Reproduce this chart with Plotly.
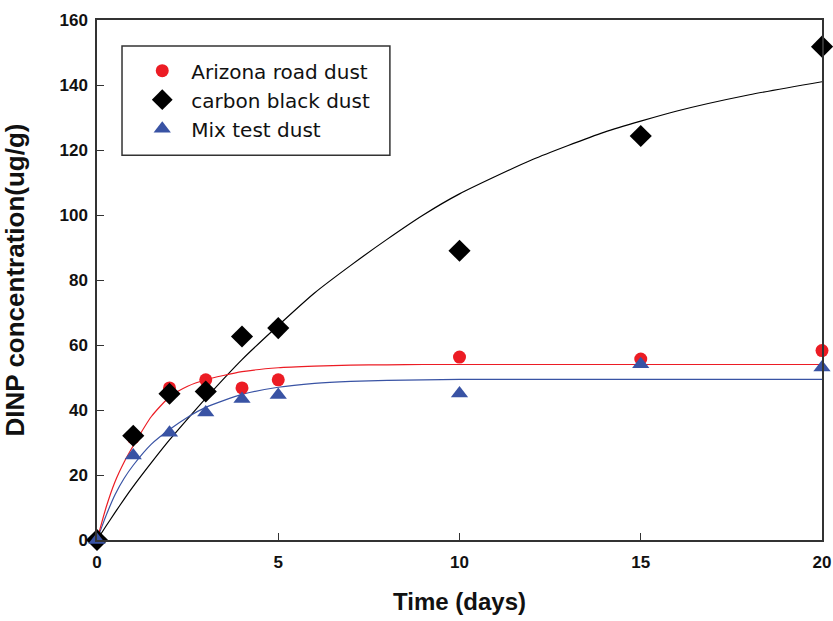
import plotly.graph_objects as go

# measured data
days = [0, 1, 2, 3, 4, 5, 10, 15, 20]
arizona = [0, 31.4, 46.8, 49.3, 46.8, 49.3, 56.3, 55.7, 58.3]
carbon = [0, 32.1, 45.0, 45.7, 62.6, 65.2, 89.0, 124.3, 151.8]
mix = [0, 26.0, 33.0, 39.2, 43.4, 44.6, 45.1, 54.1, 53.1]

# fitted curves
fit_days = [0, 0.25, 0.5, 0.75, 1, 1.5, 2, 2.5, 3, 4, 5, 6, 7, 8, 9, 10, 12, 14, 16, 18, 20]
arizona_fit = [0, 10, 18, 24, 29, 38, 44, 47.3, 49.3, 51.8, 53, 53.5, 53.8, 53.9, 54, 54, 54, 54, 54, 54, 54]
mix_fit = [0, 7.5, 14, 19, 23, 29.5, 34, 37.8, 40.8, 44.8, 47, 48.2, 48.8, 49.1, 49.3, 49.4, 49.4, 49.4, 49.4, 49.4, 49.4]
carbon_fit = [0, 4.3, 8.5, 12.6, 16.5, 23.8, 30.8, 37.3, 43.6, 55.5, 66, 76, 84.5, 92.5, 100, 106.5, 117, 125.5, 132, 137, 141]

names = ["Arizona road dust", "carbon black dust", "Mix test dust"]
RED = "#ec1c24"
BLACK = "#000000"
BLUE = "#3953a4"

fig = go.Figure()

for y, c in [(carbon_fit, BLACK), (mix_fit, BLUE), (arizona_fit, RED)]:
    fig.add_trace(go.Scatter(x=fit_days, y=y, mode="lines", line=dict(color=c, width=1.2, shape="spline", smoothing=0.6),
                             showlegend=False, hoverinfo="skip"))

fig.add_trace(go.Scatter(x=days, y=arizona, mode="markers", name=names[0], legendgroup="a", cliponaxis=False,
                         marker=dict(symbol="circle", size=13, color=RED)))
fig.add_trace(go.Scatter(x=days, y=carbon, mode="markers", name=names[1], legendgroup="b", cliponaxis=False,
                         marker=dict(symbol="diamond", size=17, color=BLACK)))
fig.add_trace(go.Scatter(x=days, y=mix, mode="markers", name=names[2], legendgroup="c", cliponaxis=False,
                         marker=dict(symbol="triangle-up", size=15, color=BLUE)))

axis_common = dict(showgrid=False, zeroline=False, showline=True, linecolor="#333333", linewidth=1.5,
                   mirror=True, ticks="inside", ticklen=7, tickwidth=1.2, tickcolor="#333333",
                   automargin=False,
                   tickfont=dict(family="Liberation Sans Narrow, Arial Narrow, Liberation Sans, sans-serif", size=17,
                                 color="#111111", weight="bold"))

fig.update_xaxes(range=[0, 20], tickvals=[0, 5, 10, 15, 20], ticklabelstandoff=6,
                 title=dict(text="Time (days)", standoff=22,
                            font=dict(family="Liberation Sans, Arial, sans-serif", size=24, color="#111111", weight="bold")),
                 **axis_common)
fig.update_yaxes(range=[0, 160], tickvals=list(range(0, 161, 20)), ticklabelstandoff=4,
                 title=dict(text="DINP concentration(ug/g)", standoff=28,
                            font=dict(family="Liberation Sans, Arial, sans-serif", size=26, color="#111111", weight="bold")),
                 **axis_common)

# legend frame
fig.add_shape(type="rect", xref="paper", yref="paper", x0=0.0345, x1=0.404, y0=0.740, y1=0.950,
              line=dict(color="#333333", width=1.5), fillcolor="white", layer="below")

fig.update_layout(
    width=833, height=621,
    margin=dict(l=97, r=11, t=20, b=81),
    plot_bgcolor="white", paper_bgcolor="white",
    legend=dict(x=0.05, y=0.94, xanchor="left", yanchor="top", bgcolor="rgba(0,0,0,0)",
                borderwidth=0, traceorder="grouped", tracegroupgap=0, itemwidth=48,
                font=dict(family="DejaVu Sans, Verdana, sans-serif", size=20, color="#111111")),
)

fig.write_html("out.html", config={"displayModeBar": False},
               post_script="document.body.style.margin='0';document.body.style.overflow='hidden';")
